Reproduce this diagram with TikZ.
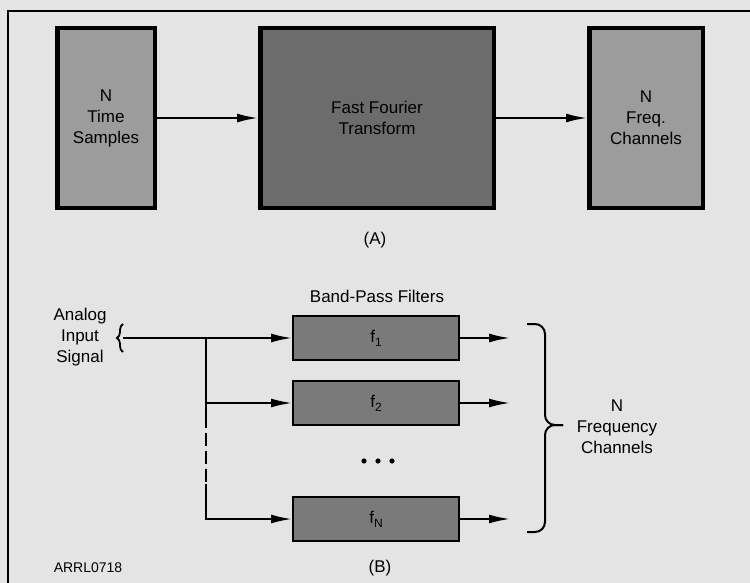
\documentclass[tikz,border=0pt]{standalone}
\usepackage{fontspec}
\setmainfont{Liberation Sans}
\usetikzlibrary{arrows.meta,positioning,decorations.pathreplacing}
\definecolor{paper}{HTML}{E4E4E4}
\definecolor{lightbox}{HTML}{9C9C9C}
\definecolor{darkbox}{HTML}{6C6C6C}
\definecolor{filterbox}{HTML}{7A7A7A}
\tikzset{>={Latex[length=21pt,width=9pt]},blockA/.style={draw=black,line width=4.5pt,align=center,inner sep=0pt,minimum height=179.5pt},blockB/.style={draw=black,line width=2pt,fill=filterbox,inner sep=0pt,minimum width=166pt,minimum height=44.5pt},arr/.style={->,line width=2pt},bracket/.style={decorate,line width=1.8pt}}
\newcommand{\lowsub}[1]{\raisebox{-0.45ex}{\fontsize{12}{12}\selectfont #1}}

\begin{document}
\begin{tikzpicture}[x=1pt,y=-1pt,font=\fontsize{17}{21}\selectfont]
\fill[paper] (0,0) rectangle (750,583);
\useasboundingbox (0,0) rectangle (750,583);
\draw[line width=1.5pt] (750,11) -- (8,11) -- (8,583);
% (A) block diagram
\node[blockA,fill=lightbox,minimum width=97.5pt] (time) at (106,118) {N\\Time\\Samples};
\node[blockA,fill=darkbox,minimum width=233.5pt] (fft) at (377,118) {Fast Fourier\\Transform};
\node[blockA,fill=lightbox,minimum width=113.5pt] (freq) at (646,118) {N\\Freq.\\Channels};
\draw[arr] (time) -- (fft);
\draw[arr] (fft) -- (freq);
\node (labA) at (375,240) {(A)};
% (B) filter bank
\node (bpf) at (377,296) {Band-Pass Filters};
\node[blockB] (f1) at (376,338) {f\lowsub{1}};
\node[blockB] (f2) at (376,403) {f\lowsub{2}};
\node[blockB] (fN) at (376,519) {f\lowsub{N}};
\foreach \x in {364,378,392}{\fill (\x,461) circle (2.6pt);}
\node[align=center] (analog) at (80,337) {Analog\\Input\\Signal};
\draw[bracket,decoration={brace,amplitude=6pt}] (123,352) -- (123,324);
\coordinate (in) at (123,338);
\coordinate (split) at (206,338);
\coordinate (dashtop) at (206,415);
\coordinate (dashbot) at (206,484);
\draw[arr] (in) -- (f1);
\draw[arr] (split) |- (f2);
\draw[line width=2pt] (split) -- (dashtop);
\draw[line width=2pt,dash pattern=on 13pt off 5pt] (dashtop) -- (dashbot);
\draw[arr] (dashbot) |- (fN);
\foreach \f in {f1,f2,fN}{
  \coordinate[right=50pt of \f.east] (\f out);
  \draw[arr] (\f.east) -- (\f out);
}
% brace round the outputs
\coordinate (bracetop) at (527,324);
\coordinate (bracebot) at (527,532);
\coordinate (bracetip) at (563,425);
\draw[line width=2pt,rounded corners=10pt] (bracetop) -| (545,425) -- (bracetip);
\draw[line width=2pt,rounded corners=10pt] (bracebot) -| (545,425) -- (bracetip);
\node[align=center] (nchan) at (617,427) {N\\Frequency\\Channels};
\node[font=\fontsize{14}{16}\selectfont] (fig) at (88,568) {ARRL0718};
\node (labB) at (380,568) {(B)};
\end{tikzpicture}
\end{document}
